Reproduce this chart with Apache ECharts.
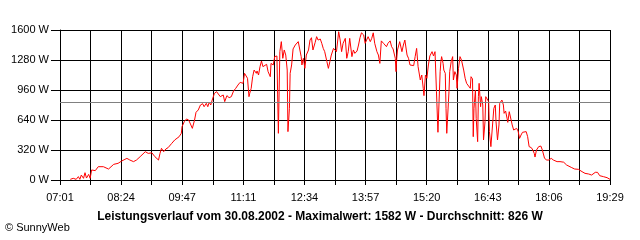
<!DOCTYPE html>
<html>
<head>
<meta charset="utf-8">
<script src="https://cdn.jsdelivr.net/npm/echarts@6/dist/echarts.min.js"></script>
<style>
html,body{margin:0;padding:0;background:#fff;}
#c{width:640px;height:240px;}
</style>
</head>
<body>
<div id="c"></div>
<script>
// x tick labels (every second vertical grid line)
const timeLabels = ['07:01','08:24','09:47','11:11','12:34','13:57','15:20','16:43','18:06','19:29'];
const dayStart = 421;   // 07:01 in minutes since midnight
const dayEnd = 1169;    // 19:29
const yMax = 1600;
const yStep = 320;
const average = 826;
const titleText = 'Leistungsverlauf vom 30.08.2002 - Maximalwert: 1582 W - Durchschnitt: 826 W';
const creditText = '\u00A9 SunnyWeb';

// sample times (minutes since midnight)
const minutes = [435,439,443,446,448,450,453,455,457,460,462,464,469,473,480,487,494,500,505,512,516,521,525,530,537,541,546,550,
555,557,559,562,565,568,573,577,583,586,587,590,593,596,599,601,604,606,609,612,615,617,620,622,624,626,628,631,634,636,639,641,643,645,648,651,654,657,660,663,666,668,670,672,674,676,678,679,
681,683,685,688,689,691,693,695,697,699,702,704,707,708,711,713,716,717,718,719,720,722,724,726,728,730,731,733,734,736,738,741,743,745,747,749,750,752,754,756,759,761,763,765,768,770,772,775,777,779,781,784,786,788,790,793,795,797,800,802,804,806,809,
811,813,815,818,820,822,825,827,829,831,834,836,838,840,843,845,847,849,852,854,856,858,861,863,865,867,870,872,874,877,878,879,880,882,883,886,888,890,893,895,897,899,902,904,906,908,911,913,915,916,918,920,922,924,927,929,931,933,935,936,938,
939,940,942,943,945,946,947,949,950,951,953,955,956,958,960,961,963,965,967,970,972,974,976,979,980,982,983,984,986,987,989,990,991,993,994,996,997,999,1000,1002,1004,1005,1007,1009,1011,1013,1014,1016,1018,1019,1022,1024,1025,1027,1029,1030,1032,1034,1036,1038,1040,1042,1044,1046,1048,1050,1052,1055,1057,1059,1062,1064,1066,1067,
1069,1072,1075,1077,1080,1083,1086,1089,1092,1097,1101,1106,1110,1117,1121,1126,1131,1135,1140,1144,1149,1152,1155,1160,1165,1169];

// power in W
const watts = [7,18,7,36,7,53,18,78,21,60,18,107,100,142,142,117,167,178,203,231,213,196,213,249,302,284,290,249,
213,284,338,302,331,345,391,427,462,498,569,622,651,640,587,551,640,722,747,800,814,782,818,782,829,800,853,924,942,924,889,871,907,836,900,878,889,949,978,1013,1042,1056,1031,1138,1120,1085,889,924,
978,1102,1173,1138,1163,1120,1209,1269,1209,1191,1234,1156,1102,1244,1227,1316,1323,907,498,942,1369,1476,1298,1387,1333,1173,516,764,1138,1227,1398,1440,1422,1476,1493,1316,1227,1298,1191,1333,1387,1493,1518,1387,1467,1529,1493,1504,1458,1404,1369,1262,1191,1262,1333,1404,1422,1369,1582,1493,1369,1458,1511,
1298,1369,1511,1316,1387,1351,1376,1440,1518,1570,1547,1458,1493,1529,1476,1511,1570,1458,1369,1333,1244,1484,1458,1440,1422,1458,1484,1422,1398,1298,1156,1298,1387,1404,1476,1369,1440,1493,1333,1298,1227,1209,1220,1316,1404,1209,1067,1120,978,900,1120,1085,1227,1323,1369,1323,1369,942,509,498,1156,
1262,1316,1244,1173,1138,764,498,480,942,1156,1262,1316,1067,1156,1120,978,1191,1316,1280,1173,1085,1031,1020,978,1102,1078,462,764,960,658,409,889,1031,782,889,800,427,622,889,871,836,516,356,356,764,800,622,427,587,818,853,800,711,736,658,615,729,711,587,533,551,551,523,444,480,509,523,516,462,356,345,320,284,245,
320,356,362,320,231,213,213,231,213,196,196,190,160,132,117,114,89,71,64,53,82,82,46,36,25,7];

const span = dayEnd - dayStart;
const xStep = span / 18;
const seriesData = minutes.map((m, i) => [m - dayStart, watts[i]]);

const chart = echarts.init(document.getElementById('c'), null, {renderer: 'canvas'});
const FONT = 'Liberation Sans, Arial, sans-serif';
chart.setOption({
  animation: false,
  backgroundColor: '#ffffff',
  grid: {left: 60, right: 30, top: 30, bottom: 60, containLabel: false},
  xAxis: {
    type: 'value', min: 0, max: span, interval: xStep,
    axisLine: {show: true, lineStyle: {color: '#000', width: 1}},
    axisTick: {show: true, length: 5, lineStyle: {color: '#000', width: 1}},
    splitLine: {show: true, lineStyle: {color: '#000', width: 1}},
    axisLabel: {
      show: true, margin: 12, color: '#000', fontFamily: FONT, fontSize: 11,
      showMinLabel: true, showMaxLabel: true,
      formatter: function (v) {
        const k = Math.round(v / xStep);
        if (k % 2 !== 0) return '';
        return timeLabels[k / 2] || '';
      }
    }
  },
  yAxis: {
    type: 'value', min: 0, max: yMax, interval: yStep,
    axisLine: {show: true, lineStyle: {color: '#000', width: 1}},
    axisTick: {show: true, length: 9, lineStyle: {color: '#000', width: 1}},
    splitLine: {show: true, lineStyle: {color: '#000', width: 1}},
    axisLabel: {margin: 11, color: '#000', fontFamily: FONT, fontSize: 11,
      formatter: function (v) { return String(Math.round(v)) + ' W'; }}
  },
  series: [
    {
      type: 'line', data: [], z: 1,
      markLine: {
        silent: true, symbol: ['none', 'none'], label: {show: false},
        lineStyle: {color: '#808080', width: 1, type: 'solid'},
        data: [{yAxis: average}]
      }
    },
    {
      type: 'line', data: seriesData, z: 3, showSymbol: false, symbol: 'none',
      lineStyle: {color: '#ff0000', width: 1}
    }
  ],
  graphic: [
    {type: 'text', x: 320, y: 216.5, style: {text: titleText, align: 'center', verticalAlign: 'middle', fill: '#000', font: 'bold 12px ' + FONT}},
    {type: 'text', x: 5, y: 228, style: {text: creditText, align: 'left', verticalAlign: 'middle', fill: '#000', font: '11px ' + FONT}}
  ]
});
</script>
</body>
</html>
